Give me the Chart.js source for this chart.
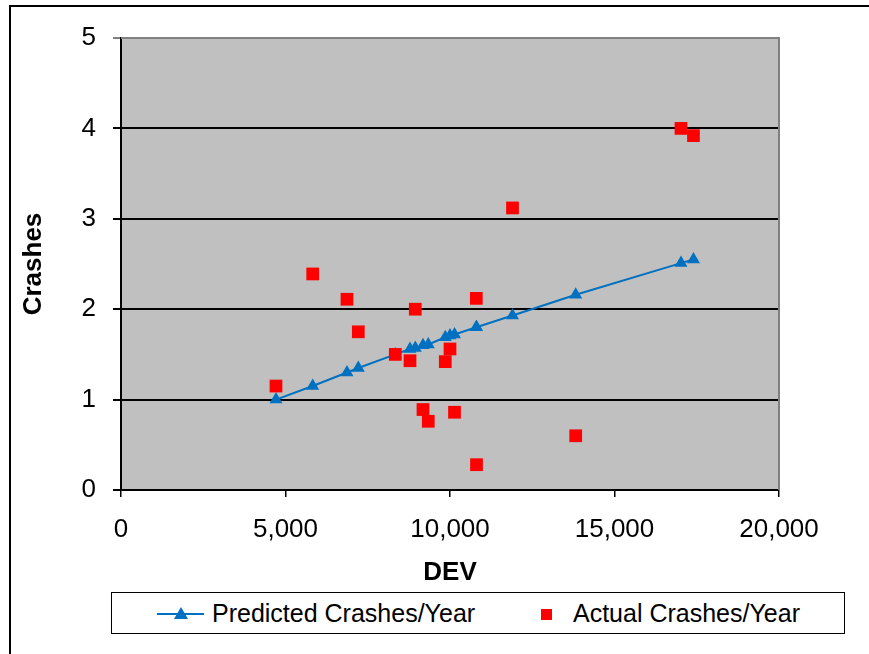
<!DOCTYPE html>
<html lang="en">
<head>
    <meta charset="UTF-8" />
    <title>Crashes vs DEV</title>
    <script src="https://cdn.jsdelivr.net/npm/chart.js"></script>
    <style>
        html, body {
            margin: 0;
            padding: 0;
            background: #ffffff;
            overflow: hidden;
        }
        #wrap {
            position: relative;
            width: 869px;
            height: 654px;
            font-family: 'Liberation Sans', Arial, sans-serif;
        }
        /* ramka wykresu (widoczna tylko z lewej i z góry) */
        #frame {
            position: absolute;
            left: 9px;
            top: 5px;
            width: 900px;
            height: 700px;
            border-left: 2.5px solid #000;
            border-top: 2.5px solid #000;
        }
        #chart {
            position: absolute;
            left: 0;
            top: 0;
        }
        #legend {
            position: absolute;
            left: 111px;
            top: 592px;
            width: 732px;
            height: 40px;
            border: 1.5px solid #000;
            background: #fff;
            font-size: 25px;
            color: #000;
        }
        .leg-item {
            position: absolute;
            top: 0;
            height: 40px;
            line-height: 40px;
            white-space: nowrap;
        }
        .leg-item svg {
            position: absolute;
            top: 0;
        }
    </style>
</head>
<body>
<div id="wrap">
    <div id="frame"></div>
    <canvas id="chart" width="869" height="654"></canvas>
    <div id="legend">
        <div class="leg-item" style="left:45px;">
            <svg width="50" height="40" style="left:0;">
                <line x1="0" y1="21" x2="47" y2="21" stroke="#0070C0" stroke-width="2" />
                <polygon points="24,14 31,26 17,26" fill="#0070C0" />
            </svg>
            <span style="position:absolute; left:55px;">Predicted Crashes/Year</span>
        </div>
        <div class="leg-item" style="left:428px;">
            <svg width="16" height="40" style="left:0;">
                <rect x="1" y="16" width="11" height="11" fill="#FF0000" />
            </svg>
            <span style="position:absolute; left:33px;">Actual Crashes/Year</span>
        </div>
    </div>
</div>

<script>
    // Dane
    const devValues = [4711, 5827, 6869, 7213, 8337, 8784, 8945, 9179, 9340,
                       9857, 10000, 10137, 10800, 10806, 11900, 13821, 17021, 17400];
    const predictedCrashes = [1.00, 1.15, 1.30, 1.35, 1.50, 1.56, 1.57, 1.60, 1.61,
                              1.69, 1.71, 1.72, 1.80, 1.80, 1.93, 2.16, 2.51, 2.55];
    const actualCrashes = [1.15, 2.39, 2.11, 1.75, 1.50, 1.43, 2.00, 0.89, 0.76,
                           1.42, 1.56, 0.86, 2.12, 0.28, 3.12, 0.60, 4.00, 3.92];

    const xTicks = [0, 5000, 10000, 15000, 20000];
    const yTicks = [0, 1, 2, 3, 4, 5];

    const toPoints = (xs, ys) => xs.map((x, i) => ({x: x, y: ys[i]}));

    // szare tło obszaru wykresu + szara ramka góra/prawo
    const plotBackground = {
        id: 'plotBackground',
        beforeDraw(chart) {
            const {ctx, chartArea: a} = chart;
            ctx.save();
            ctx.fillStyle = '#C0C0C0';
            ctx.fillRect(a.left, a.top, a.right - a.left, a.bottom - a.top);
            ctx.restore();
        },
        afterDatasetsDraw(chart) {
            const {ctx, chartArea: a} = chart;
            ctx.save();
            ctx.strokeStyle = '#808080';
            ctx.lineWidth = 2;
            ctx.beginPath();
            ctx.moveTo(a.left, a.top);
            ctx.lineTo(a.right, a.top);
            ctx.lineTo(a.right, a.bottom);
            ctx.stroke();
            ctx.restore();
        }
    };

    const ctx = document.getElementById('chart').getContext('2d');
    const chart = new Chart(ctx, {
        type: 'scatter',
        data: {
            datasets: [
                {
                    label: 'Predicted Crashes/Year',
                    data: toPoints(devValues, predictedCrashes),
                    showLine: true,
                    borderColor: '#0070C0',
                    backgroundColor: '#0070C0',
                    borderWidth: 2,
                    pointStyle: 'triangle',
                    pointRadius: 7.5,
                    pointBorderWidth: 0,
                    order: 2
                },
                {
                    label: 'Actual Crashes/Year',
                    data: toPoints(devValues, actualCrashes),
                    showLine: false,
                    borderColor: '#FF0000',
                    backgroundColor: '#FF0000',
                    pointStyle: 'rect',
                    pointRadius: 9,
                    pointBorderWidth: 0,
                    order: 1
                }
            ]
        },
        options: {
            responsive: false,
            animation: false,
            layout: {
                padding: {left: 0, top: 38, right: 90, bottom: 66}
            },
            plugins: {
                legend: {display: false},
                tooltip: {enabled: false}
            },
            scales: {
                x: {
                    type: 'linear',
                    min: 0,
                    max: 20000,
                    afterFit: (scale) => { scale.height = 98; },
                    afterBuildTicks: (scale) => {
                        scale.ticks = xTicks.map(v => ({value: v}));
                    },
                    border: {display: true, color: '#000', width: 2},
                    grid: {
                        drawOnChartArea: false,
                        drawTicks: true,
                        tickLength: 7,
                        color: '#000',
                        lineWidth: 1.5
                    },
                    ticks: {
                        color: '#000',
                        padding: 17,
                        maxRotation: 0,
                        font: {family: "'Liberation Sans', Arial, sans-serif", size: 26},
                        callback: (v) => v.toLocaleString('en-US')
                    },
                    title: {
                        display: true,
                        text: 'DEV',
                        color: '#000',
                        padding: {top: 0, bottom: 0},
                        font: {family: "'Liberation Sans', Arial, sans-serif", size: 26, weight: 'bold'}
                    }
                },
                y: {
                    type: 'linear',
                    min: 0,
                    max: 5,
                    afterFit: (scale) => { scale.width = 121; },
                    afterBuildTicks: (scale) => {
                        scale.ticks = yTicks.map(v => ({value: v}));
                    },
                    border: {display: true, color: '#000', width: 2},
                    grid: {
                        drawTicks: true,
                        tickLength: 8,
                        color: (c) => (c.tick && c.tick.value === 5 ? '#808080' : '#000'),
                        lineWidth: 2
                    },
                    ticks: {
                        color: '#000',
                        padding: 17,
                        font: {family: "'Liberation Sans', Arial, sans-serif", size: 26}
                    },
                    title: {
                        display: true,
                        text: 'Crashes',
                        color: '#000',
                        padding: {top: 18, bottom: 0},
                        font: {family: "'Liberation Sans', Arial, sans-serif", size: 26, weight: 'bold'}
                    }
                }
            }
        },
        plugins: [plotBackground]
    });
</script>
</body>
</html>
